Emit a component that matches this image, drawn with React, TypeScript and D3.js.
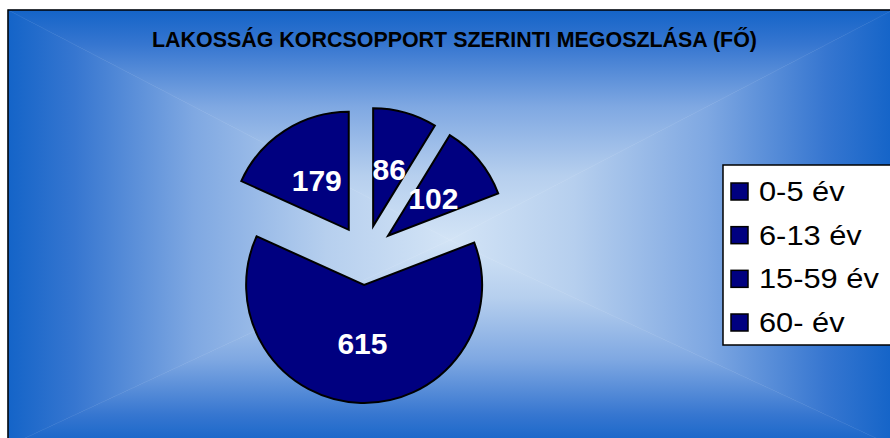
import React from "react";
import * as d3 from "d3";

const categories = ["0-5 év", "6-13 év", "15-59 év", "60- év"];
const values = [86, 102, 615, 179];
const title = "LAKOSSÁG KORCSOPPORT SZERINTI MEGOSZLÁSA (FŐ)";

const W = 890;
const H = 438;

export default function App() {
  const bx0 = 8, by0 = 10, bx1 = 893, by1 = 446;
  const gcx = 450, gcy = 240;
  const cx = 365, cy = 255, R = 118, explode = 30;

  const pie = d3.pie<number>().sort(null).value((d) => d)(values);
  const arc = d3.arc<d3.PieArcDatum<number>>().innerRadius(0).outerRadius(R);

  const stops = [
    { o: 0, c: "#1464c8" },
    { o: 0.15, c: "#3676d0" },
    { o: 0.42, c: "#7fa8e2" },
    { o: 0.72, c: "#b6cfee" },
    { o: 1, c: "#d3e4f6" },
  ];
  const grads = [
    { id: "gT", x1: 0, y1: by0, x2: 0, y2: gcy, pts: [[bx0, by0], [bx1, by0], [gcx, gcy]] },
    { id: "gB", x1: 0, y1: by1, x2: 0, y2: gcy, pts: [[bx0, by1], [bx1, by1], [gcx, gcy]] },
    { id: "gL", x1: bx0, y1: 0, x2: gcx, y2: 0, pts: [[bx0, by0], [bx0, by1], [gcx, gcy]] },
    { id: "gR", x1: bx1, y1: 0, x2: gcx, y2: 0, pts: [[bx1, by0], [bx1, by1], [gcx, gcy]] },
  ];

  const legendRowY = d3.scalePoint<string>().domain(categories).range([191, 322]);

  return (
    <svg
      width={W}
      height={H}
      style={{ position: "absolute", left: 0, top: 0, background: "#fff" }}
      fontFamily="'Liberation Sans', Arial, sans-serif"
    >
      <defs>
        {grads.map((g) => (
          <linearGradient key={g.id} id={g.id} gradientUnits="userSpaceOnUse" x1={g.x1} y1={g.y1} x2={g.x2} y2={g.y2}>
            {stops.map((s, i) => (
              <stop key={i} offset={s.o} stopColor={s.c} />
            ))}
          </linearGradient>
        ))}
      </defs>
      {grads.map((g) => (
        <polygon key={g.id} points={g.pts.map((p) => p.join(",")).join(" ")} fill={`url(#${g.id})`} stroke={`url(#${g.id})`} strokeWidth={0.5} />
      ))}
      <rect x={bx0} y={by0} width={bx1 - bx0} height={by1 - by0} fill="none" stroke="#000" strokeWidth={1.5} />

      <text x={454.5} y={47} textAnchor="middle" fontSize={22} fontWeight="bold" fill="#000" textLength={605} lengthAdjust="spacingAndGlyphs">
        {title}
      </text>

      <g>
        {pie.map((d, i) => {
          const mid = (d.startAngle + d.endAngle) / 2;
          const dx = Math.sin(mid) * explode;
          const dy = -Math.cos(mid) * explode;
          const [lx, ly] = arc.centroid(d);
          return (
            <g key={i} transform={`translate(${cx + dx},${cy + dy})`}>
              <path d={arc(d) || ""} fill="#000080" stroke="#000" strokeWidth={2} strokeLinejoin="miter" />
              <text x={lx} y={ly} textAnchor="middle" dominantBaseline="central" fontSize={30} fontWeight="bold" fill="#fff">
                {values[i]}
              </text>
            </g>
          );
        })}
      </g>

      <g>
        <rect x={723} y={165} width={180} height={180} fill="#fff" stroke="#000" strokeWidth={1.5} />
        {categories.map((c) => {
          const y = legendRowY(c) as number;
          return (
            <g key={c}>
              <rect x={731} y={y - 8} width={17} height={17} fill="#000080" stroke="#000" strokeWidth={1.5} />
              <text transform={`translate(759,${y}) scale(1.1,1)`} dominantBaseline="central" fontSize={28} fill="#000">
                {c}
              </text>
            </g>
          );
        })}
      </g>
    </svg>
  );
}
